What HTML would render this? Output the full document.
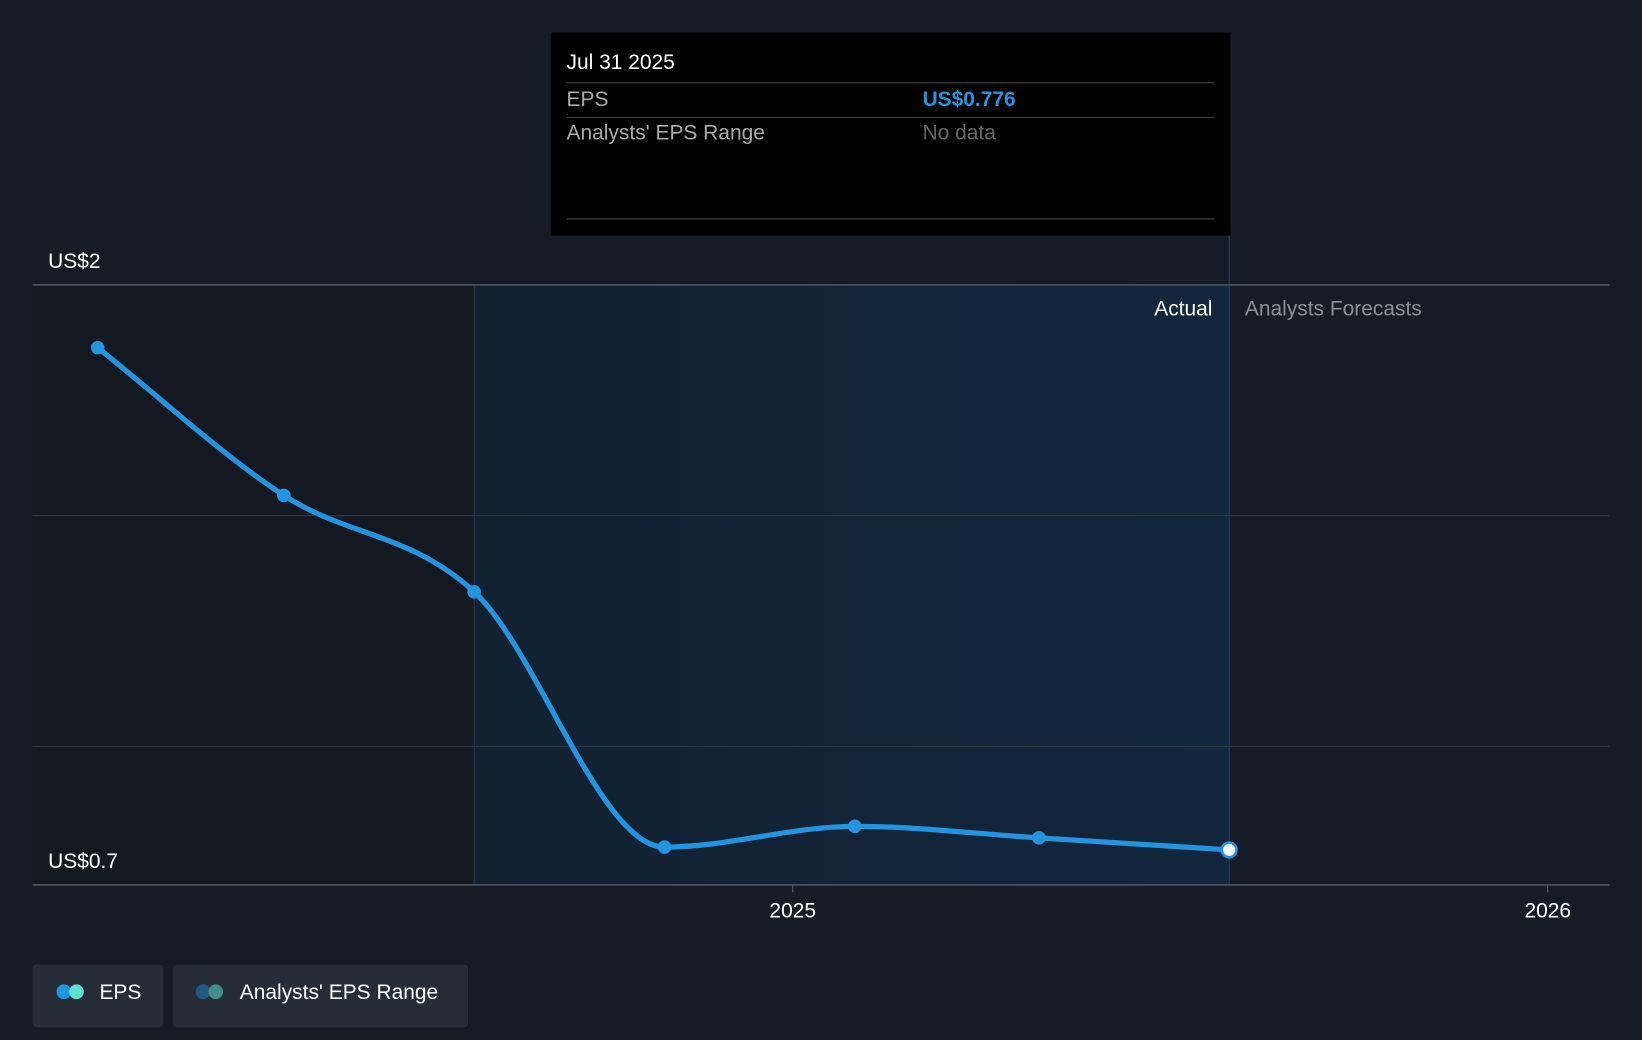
<!DOCTYPE html>
<html><head><meta charset="utf-8"><style>
html,body{margin:0;padding:0;background:#161c26;}
svg{display:block;font-family:"Liberation Sans",sans-serif;}
</style></head><body>
<svg id="chart" width="1642" height="1040" viewBox="0 0 1568 993" xmlns="http://www.w3.org/2000/svg">
<defs>
<linearGradient id="shade" x1="0" x2="1" y1="0" y2="0">
<stop offset="0" stop-color="#122232" stop-opacity="0.9"/>
<stop offset="1" stop-color="#12263d"/>
</linearGradient>
</defs>
<rect width="1568" height="993" fill="#161c26"/>
<g id="plot"></g>
<g>
<rect x="526" y="31" width="649" height="194" fill="#000"/>
<text x="541" y="66" fill="#fff" font-size="20">Jul 31 2025</text>
<line x1="541" x2="1160" y1="79" y2="79" stroke="#444"/>
<text x="541" y="101" fill="#aaa" font-size="20">EPS</text>
<text x="881" y="101" fill="#2394df" font-size="20" font-weight="bold">US$0.776</text>
<line x1="541" x2="1160" y1="112" y2="112" stroke="#444"/>
<text x="541" y="133" fill="#aaa" font-size="20">Analysts' EPS Range</text>
<text x="881" y="133" fill="#666" font-size="20">No data</text>
<line x1="541" x2="1160" y1="209" y2="209" stroke="#444"/>
</g>
<g>
<rect x="31" y="921" width="125" height="60" rx="4" fill="#262d38"/>
<circle cx="61" cy="947" r="7" fill="#2394df"/><circle cx="73" cy="947" r="7" fill="#5ee0d0"/>
<text x="95" y="954" fill="#fff" font-size="20">EPS</text>
<rect x="165" y="921" width="282" height="60" rx="4" fill="#262d38"/>
<circle cx="194" cy="947" r="7" fill="#1e5a85"/><circle cx="206" cy="947" r="7" fill="#3f8f88"/>
<text x="229" y="954" fill="#fff" font-size="20">Analysts' EPS Range</text>
</g>
</svg>
<script>
const dates = ["2024-01-31","2024-04-30","2024-07-31","2024-10-31","2025-01-31","2025-04-30","2025-07-31"];
const epsValues = [1.864, 1.544, 1.335, 0.782, 0.827, 0.802, 0.776];
const yTicks = [0.7, 1.0, 1.5, 2];
const yTickLabels = ["US$0.7", "", "", "US$2"];
const xTickDates = ["2025-01-01","2026-01-01"];
const xTickLabels = ["2025","2026"];

const NS="http://www.w3.org/2000/svg";
const g=document.getElementById('plot');
const x0=Date.parse("2025-01-01"), x1=Date.parse("2026-01-01");
function xs(d){return 757+(Date.parse(d)-x0)/(x1-x0)*721;}
function ys(v){return 845-(v-0.7)/1.3*573;}
function el(t,a){const e=document.createElementNS(NS,t);for(const k in a)e.setAttribute(k,a[k]);g.appendChild(e);return e;}

const lastX=xs(dates[dates.length-1]);
const pastX=xs(dates[2]);
let r=el('rect',{x:31,y:272,width:pastX-31,height:573,fill:'#131821'});


r=el('rect',{x:pastX,y:272,width:lastX-pastX,height:573,fill:'url(#shade)'});


let l=el('line',{x1:pastX,x2:pastX,y1:272,y2:845,stroke:'#1c3a55'});


l=el('line',{x1:lastX,x2:lastX,y1:225,y2:845,stroke:'#1f4566'});



yTicks.forEach((v,i)=>{
  const y=ys(v);
  const gl=el('line',{x1:31,x2:1537,y1:y,y2:y,stroke:i==0||i==yTicks.length-1?'#59606a':'#2c333d','stroke-width':1.3});
  
  
  if(yTickLabels[i]){
    const t=el('text',{x:46,y:y-16,fill:'#fff','font-size':20});
    t.textContent=yTickLabels[i];
    
    
  }
});
xTickDates.forEach((d,i)=>{
  const x=xs(d);
  const tk=el('line',{x1:x,x2:x,y1:845,y2:852,stroke:'#59606a'});
  
  
  const t=el('text',{x:x,y:876,fill:'#fff','font-size':20,'text-anchor':'middle'});
  t.textContent=xTickLabels[i];
  
  
});
let t=el('text',{x:lastX-16,y:301,fill:'#fff','font-size':20,'text-anchor':'end'});
t.textContent='Actual';


t=el('text',{x:lastX+15,y:301,fill:'#8a8f96','font-size':20});
t.textContent='Analysts Forecasts';



// monotone cubic path
const P=dates.map((d,i)=>[xs(d),ys(epsValues[i])]);
const n=P.length, dk=[], m=[];
for(let i=0;i<n-1;i++)dk.push((P[i+1][1]-P[i][1])/(P[i+1][0]-P[i][0]));
for(let i=0;i<n;i++){
  if(i==0)m.push(dk[0]);else if(i==n-1)m.push(dk[n-2]);
  else m.push(dk[i-1]*dk[i]<=0?0:(dk[i-1]+dk[i])/2);
}
let dstr=`M${P[0][0]},${P[0][1]}`;
for(let i=0;i<n-1;i++){
  const h=(P[i+1][0]-P[i][0])/3;
  dstr+=` C${P[i][0]+h},${P[i][1]+m[i]*h} ${P[i+1][0]-h},${P[i+1][1]-m[i+1]*h} ${P[i+1][0]},${P[i+1][1]}`;
}
const path=el('path',{d:dstr,fill:'none',stroke:'#2394df','stroke-width':5,'stroke-linecap':'round'});


P.forEach((p,i)=>{
  const last=i==n-1;
  const c=el('circle',{cx:p[0],cy:p[1],r:last?7:6.5,fill:last?'#fff':'#2394df',stroke:last?'#2394df':'none','stroke-width':2.5});
  
  
});
</script>
</body></html>
